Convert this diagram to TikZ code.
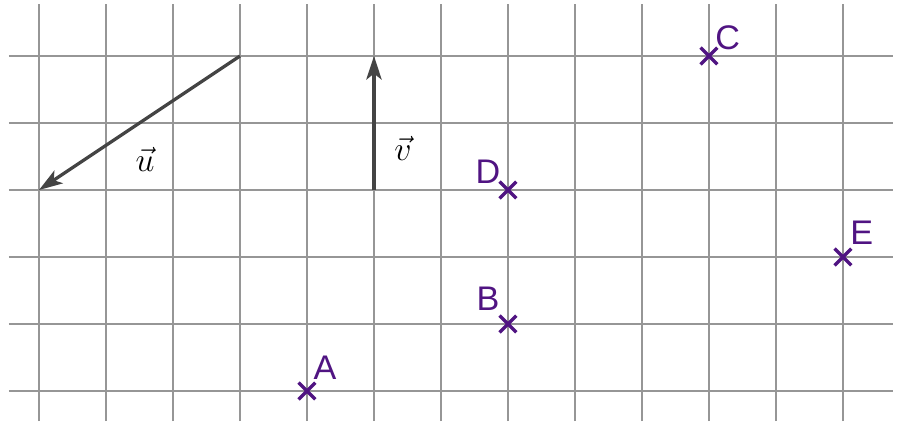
\documentclass[tikz,border=0pt]{standalone}
\usepackage{fontspec}
\setmainfont{Liberation Sans}
\usetikzlibrary{arrows.meta}
\definecolor{gridgray}{RGB}{150,150,150}
\definecolor{vecgray}{RGB}{68,68,68}
\definecolor{ptpurple}{RGB}{80,20,130}
\begin{document}
\begin{tikzpicture}[x=1cm,y=1cm,
  gridline/.style={draw=gridgray,line width=0.8pt},
  vecline/.style={draw=vecgray,line width=1.4pt,-{Stealth[length=10pt,width=6.5pt,inset=2.5pt]}},
  veclabel/.style={font=\fontsize{15}{17}\selectfont,inner sep=0pt},
  ptlabel/.style={text=ptpurple,font=\fontsize{14.5}{16}\selectfont,inner sep=0pt},
  cross/.style={draw=ptpurple,line width=1.4pt}]
\useasboundingbox (-0.582,-0.478) rectangle (12.896,5.836);
\foreach \i in {0,...,12} \draw[gridline] (\i,-0.448) -- (\i,5.776);
\foreach \j in {0,...,5} \draw[gridline] (-0.448,\j) -- (12.746,\j);
% vectors
\coordinate (u0) at (3,5);
\coordinate (u1) at (0,3);
\coordinate (v0) at (5,3);
\coordinate (v1) at (5,5);
\draw[vecline] (u0) -- (u1);
\draw[vecline] (v0) -- (v1);
\node[veclabel] (ul) at (1.585,3.46) {$\vec{u}$};
\node[veclabel] (vl) at (5.433,3.62) {$\vec{v}$};
% points
\coordinate (A) at (4,0);
\coordinate (B) at (7,1);
\coordinate (C) at (10,5);
\coordinate (D) at (7,3);
\coordinate (E) at (12,2);
\foreach \p in {A,B,C,D,E}
  \draw[cross] ([shift={(-0.125,-0.125)}]\p) -- ([shift={(0.125,0.125)}]\p)
               ([shift={(-0.125,0.125)}]\p) -- ([shift={(0.125,-0.125)}]\p);
\node[ptlabel] (Al) at ([shift={(0.27,0.34)}]A) {A};
\node[ptlabel] (Bl) at ([shift={(-0.30,0.37)}]B) {B};
\node[ptlabel] (Cl) at ([shift={(0.28,0.27)}]C) {C};
\node[ptlabel] (Dl) at ([shift={(-0.30,0.27)}]D) {D};
\node[ptlabel] (El) at ([shift={(0.28,0.36)}]E) {E};
\end{tikzpicture}
\end{document}
